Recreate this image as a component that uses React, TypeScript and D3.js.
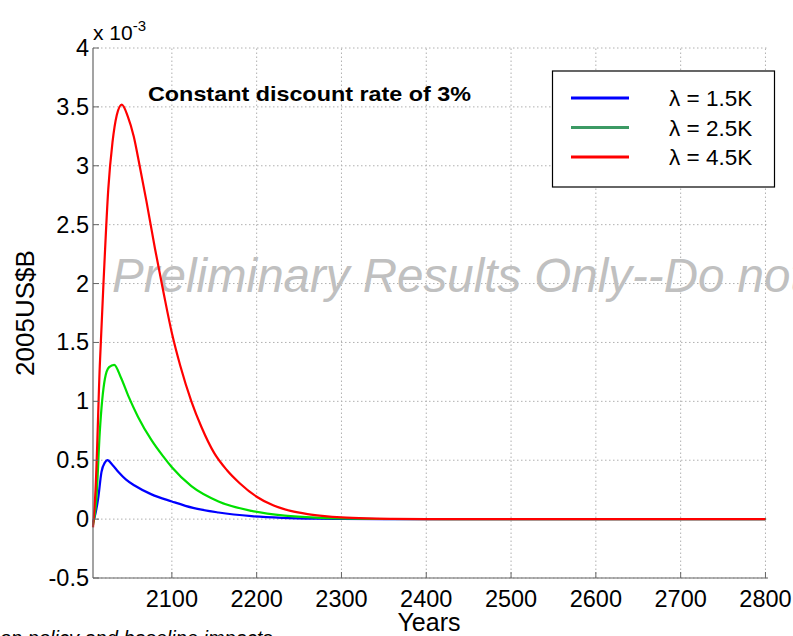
import React from "react";
import * as d3 from "d3";

const W = 793;
const H = 636;

const xTicks = [2100, 2200, 2300, 2400, 2500, 2600, 2700, 2800];
const yTicks = [-0.5, 0, 0.5, 1, 1.5, 2, 2.5, 3, 3.5, 4];
const yTickLabels = ["-0.5", "0", "0.5", "1", "1.5", "2", "2.5", "3", "3.5", "4"];

const seriesNames = ["λ = 1.5K", "λ = 2.5K", "λ = 4.5K"];
const lineColors = ["#0000ff", "#00e000", "#ff0000"];
const legendColors = ["#0000ff", "#3c9a64", "#ff0000"];

// values in units of 1e-3 (2005US$B)
const blueYears = [2007, 2010, 2013, 2017, 2021, 2024, 2030, 2037, 2046, 2056, 2076, 2100, 2125, 2155, 2194, 2230, 2270, 2300, 2350, 2450, 2800];
const blueVals = [-0.03, 0.05, 0.17, 0.4, 0.48, 0.5, 0.46, 0.4, 0.335, 0.285, 0.21, 0.15, 0.095, 0.056, 0.025, 0.011, 0.004, 0.002, 0, 0, 0];

const greenYears = [2007, 2011, 2015, 2021, 2026, 2032, 2040, 2049, 2060, 2076, 2090, 2100, 2123, 2155, 2194, 2233, 2270, 2300, 2340, 2450, 2800];
const greenVals = [-0.05, 0.17, 0.74, 1.19, 1.29, 1.31, 1.2, 1.04, 0.87, 0.67, 0.53, 0.44, 0.28, 0.15, 0.07, 0.03, 0.012, 0.005, 0.001, 0, 0];

const redYears = [2007, 2010, 2015, 2020, 2025, 2030, 2035, 2041, 2048, 2055, 2062, 2070, 2080, 2090, 2100, 2110, 2123, 2135, 2150, 2165, 2180, 2200, 2220, 2240, 2260, 2280, 2300, 2330, 2360, 2400, 2800];
const redVals = [-0.07, 0.25, 1.3, 2.1, 2.8, 3.2, 3.43, 3.52, 3.42, 3.25, 3.0, 2.7, 2.3, 1.93, 1.58, 1.3, 1.0, 0.78, 0.56, 0.415, 0.305, 0.19, 0.115, 0.07, 0.043, 0.026, 0.015, 0.006, 0.002, 0, 0];

const seriesYears = [blueYears, greenYears, redYears];
const seriesVals = [blueVals, greenVals, redVals];

const FONT = "'Liberation Sans', Arial, Helvetica, sans-serif";

export default function App() {
  const x = d3.scaleLinear().domain([2007, 2803]).range([93, 768]);
  const y = d3.scaleLinear().domain([-0.5, 4]).range([578, 48]);
  const line = d3
    .line<[number, number]>()
    .x((d) => x(d[0]))
    .y((d) => y(d[1]))
    .curve(d3.curveMonotoneX);

  const x0 = x.range()[0];
  const x1 = x.range()[1];
  const yb = y.range()[0];
  const yt = y.range()[1];

  return (
    <svg width={W} height={H} style={{ position: "absolute", left: 0, top: 0, background: "#fff" }} fontFamily={FONT}>
      <rect x={0} y={0} width={W} height={H} fill="#fff" />
      {/* grid */}
      {xTicks.map((t) => (
        <line key={"gx" + t} x1={x(t)} x2={x(t)} y1={yb} y2={yt} stroke="#b0b0b0" strokeWidth={1} strokeDasharray="1.5,2.5" />
      ))}
      {yTicks.map((t) => (
        <line key={"gy" + t} x1={x0} x2={x1} y1={y(t)} y2={y(t)} stroke="#b0b0b0" strokeWidth={1} strokeDasharray="1.5,2.5" />
      ))}
      {/* watermark */}
      <text x={112} y={292} fontSize={47.5} fontStyle="italic" fill="#c0c0c0">
        Preliminary Results Only--Do not
      </text>
      {/* series */}
      {seriesYears.map((ys, i) => (
        <path
          key={"s" + i}
          d={line(ys.map((yr, j) => [yr, seriesVals[i][j]] as [number, number])) || ""}
          fill="none"
          stroke={lineColors[i]}
          strokeWidth={2.2}
        />
      ))}
      {/* axes */}
      <line x1={x0} x2={x0} y1={yb} y2={yt} stroke="#666" strokeWidth={1.2} />
      <line x1={x0} x2={x1} y1={yb} y2={yb} stroke="#666" strokeWidth={1.2} />
      {xTicks.map((t) => (
        <line key={"tx" + t} x1={x(t)} x2={x(t)} y1={yb} y2={yb - 6} stroke="#666" strokeWidth={1} />
      ))}
      {yTicks.map((t) => (
        <line key={"ty" + t} x1={x0} x2={x0 + 6} y1={y(t)} y2={y(t)} stroke="#666" strokeWidth={1} />
      ))}
      {xTicks.map((t) => (
        <text key={"lx" + t} x={x(t)} y={607} fontSize={23.5} textAnchor="middle" fill="#000">
          {t}
        </text>
      ))}
      {yTicks.map((t, i) => (
        <text key={"ly" + t} x={89} y={y(t) + 8} fontSize={23.5} textAnchor="end" fill="#000">
          {yTickLabels[i]}
        </text>
      ))}
      {/* exponent */}
      <text x={93} y={40} fontSize={21} fill="#000">
        x 10
        <tspan fontSize={15} dy={-9}>-3</tspan>
      </text>
      {/* axis labels */}
      <text x={429} y={631} fontSize={25} textAnchor="middle" fill="#000">
        Years
      </text>
      <text transform="translate(34,313) rotate(-90)" fontSize={26} textAnchor="middle" fill="#000">
        2005US$B
      </text>
      {/* title */}
      <text x={148} y={101} fontSize={21} fontWeight="bold" fill="#000" textLength={323} lengthAdjust="spacingAndGlyphs">
        Constant discount rate of 3%
      </text>
      {/* legend */}
      <rect x={552.5} y={71} width={222} height={116} fill="#fff" stroke="#000" strokeWidth={1.2} />
      {seriesNames.map((n, i) => (
        <g key={"lg" + i}>
          <line x1={571} x2={629} y1={98 + i * 29.5} y2={98 + i * 29.5} stroke={legendColors[i]} strokeWidth={3} />
          <text x={669} y={98 + i * 29.5 + 8} fontSize={22.5} fill="#000">
            {n}
          </text>
        </g>
      ))}
      {/* footnote */}
      <text x={0} y={645} fontSize={20} fontStyle="italic" fill="#000">
        on policy and baseline impacts
      </text>
    </svg>
  );
}
